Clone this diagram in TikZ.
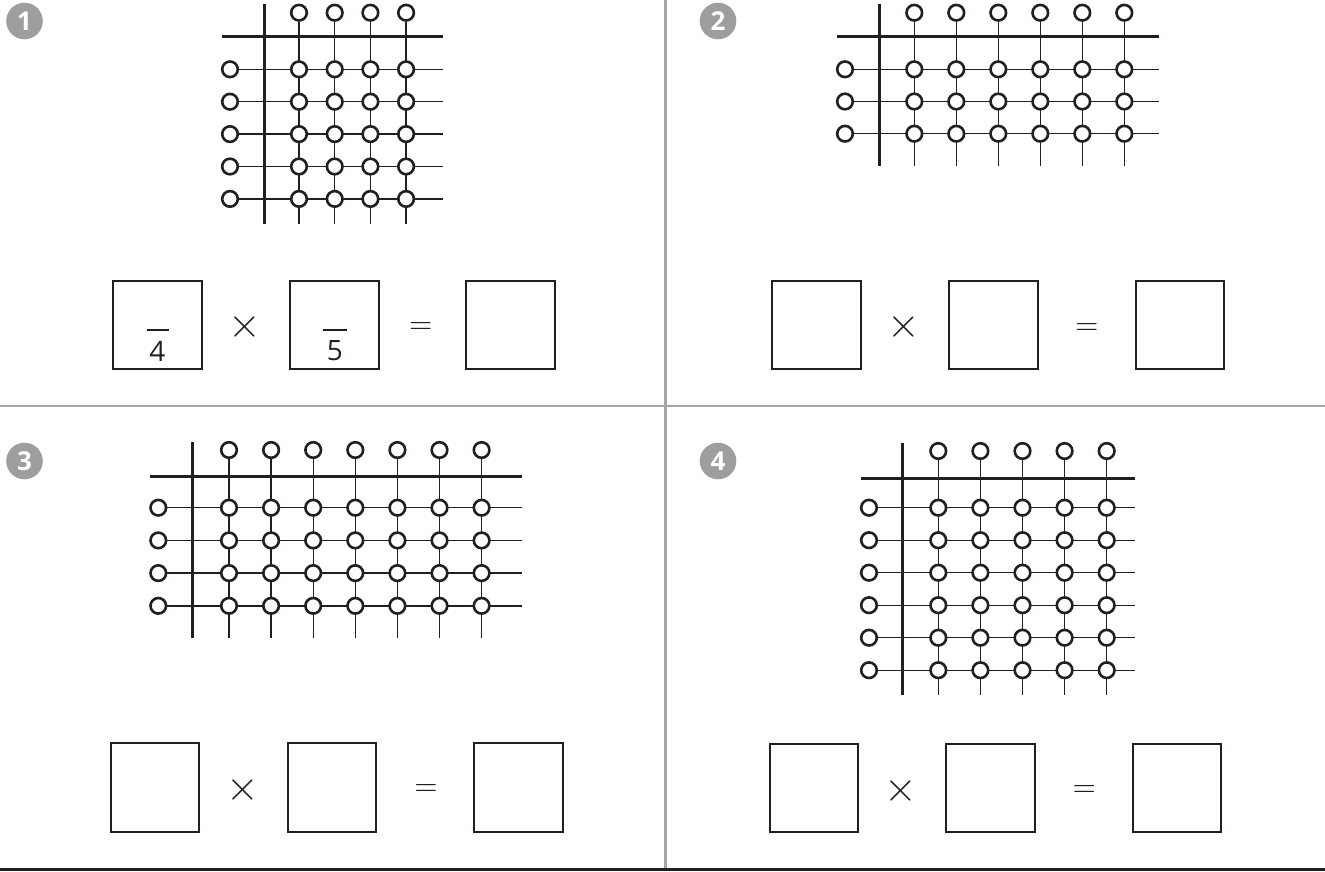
\documentclass[tikz,border=0pt]{standalone}
\usepackage{fontspec}
\setmainfont{Open Sans}
\newfontfamily\opfont{lmroman10-regular.otf}
\usetikzlibrary{backgrounds}
\definecolor{ink}{RGB}{35,31,32}
\definecolor{badgegray}{RGB}{158,158,161}
\definecolor{sepgray}{RGB}{165,165,167}
\tikzset{
  ring/.style={circle, draw=ink, line width=2.6pt, fill=white, minimum size=15.6pt, inner sep=0pt},
  gline/.style={draw=ink, line width=1.4pt},
  axisline/.style={draw=ink, line width=3pt},
  ansbox/.style={draw=ink, line width=2pt, minimum width=88.5pt, minimum height=88.3pt, inner sep=0pt},
  badge/.style={circle, fill=badgegray, minimum size=36.6pt, inner sep=0pt, text=white, font=\fontsize{26}{26}\selectfont\bfseries},
  sepline/.style={draw=sepgray, line width=2.6pt},
  endline/.style={draw=ink, line width=2.4pt},
  timessym/.style={font=\opfont\fontsize{42}{42}\selectfont, inner sep=0pt, text=ink},
  eqsym/.style={font=\opfont\fontsize{30}{30}\selectfont, inner sep=0pt, text=ink},
  digit/.style={font=\fontsize{28}{28}\selectfont, inner sep=0pt, text=ink},
  fracbar/.style={draw=ink, line width=1.5pt},
}
\pgfkeys{/mygrid/.cd,
  id/.store in=\gId, ax/.store in=\gAx, lx/.store in=\gLx,
  cx/.store in=\gCx, dc/.store in=\gDc, nc/.store in=\gNc,
  ty/.store in=\gTy, hy/.store in=\gHy, ry/.store in=\gRy,
  dr/.store in=\gDr, nr/.store in=\gNr, by/.store in=\gBy,
  rx/.store in=\gRx}
\newcommand\drawgridbody{%
  \foreach \i in {1,...,\gNc} {
    \pgfmathsetmacro\xx{\gCx+(\i-1)*\gDc}
    \node[ring] (\gId-t\i) at (\xx,\gTy) {};
    \coordinate (\gId-b\i) at (\xx,\gBy);
  }
  \foreach \j in {1,...,\gNr} {
    \pgfmathsetmacro\yy{\gRy+(\j-1)*\gDr}
    \node[ring] (\gId-l\j) at (\gLx,\yy) {};
    \coordinate (\gId-r\j) at (\gRx,\yy);
    \foreach \i in {1,...,\gNc} {
      \pgfmathsetmacro\xx{\gCx+(\i-1)*\gDc}
      \node[ring] (\gId-c\i-\j) at (\xx,\yy) {};
    }
  }
  \begin{pgfonlayer}{background}
    \foreach \i in {1,...,\gNc} \draw[gline] (\gId-t\i) -- (\gId-b\i);
    \foreach \j in {1,...,\gNr} \draw[gline] (\gId-l\j) -- (\gId-r\j);
  \end{pgfonlayer}
  \coordinate (\gId-vt) at (\gAx,\gTy-8.5);
  \coordinate (\gId-vb) at (\gAx,\gBy);
  \coordinate (\gId-hl) at (\gLx-8,\gHy);
  \coordinate (\gId-hr) at (\gRx,\gHy);
  \draw[axisline] (\gId-vt) -- (\gId-vb);
  \draw[axisline] (\gId-hl) -- (\gId-hr);
}
\newcommand\drawgrid[1]{\pgfkeys{/mygrid/.cd,#1}\drawgridbody}
\begin{document}
\begin{tikzpicture}[x=1pt,y=-1pt]
\useasboundingbox (0,0) rectangle (1325,871);

% separators
\coordinate (vs-t) at (665.5,0);
\coordinate (vs-b) at (665.5,868);
\coordinate (hs-l) at (0,406);
\coordinate (hs-r) at (1325,406);
\coordinate (bl-l) at (0,869.5);
\coordinate (bl-r) at (1325,869.5);
\draw[sepline] (vs-t) -- (vs-b);
\draw[sepline] (hs-l) -- (hs-r);
\draw[endline] (bl-l) -- (bl-r);

% badges
\node[badge] (b1) at (24.5,21) {1};
\node[badge] (b2) at (718,21) {2};
\node[badge] (b3) at (24.5,461) {3};
\node[badge] (b4) at (718,461) {4};

% grids
\drawgrid{id=p1, ax=264, lx=230, cx=299, dc=35.7, nc=4, ty=12.7, hy=36, ry=69.3, dr=32.4, nr=5, by=224.3, rx=443}
\drawgrid{id=p2, ax=879, lx=845, cx=914.3, dc=42, nc=6, ty=12.7, hy=36, ry=69.3, dr=32.2, nr=3, by=165.7, rx=1159.3}
\drawgrid{id=p3, ax=192.7, lx=158.3, cx=229, dc=42.1, nc=7, ty=450, hy=476, ry=507.7, dr=32.7, nr=4, by=638.3, rx=521.7}
\drawgrid{id=p4, ax=902.3, lx=869, cx=938.3, dc=42.1, nc=5, ty=451, hy=478.3, ry=507.7, dr=32.5, nr=6, by=695.3, rx=1135}

% panel 1 equation
\node[ansbox] (e1a) at (157.7,324.9) {};
\node[timessym] (e1x) at (245,326.7) {×};
\node[ansbox] (e1b) at (334.3,324.9) {};
\node[eqsym] (e1e) at (420.7,328) {=};
\node[ansbox] (e1c) at (510.5,324.9) {};
\coordinate (f1l) at (146.7,330);
\coordinate (f1r) at (169.3,330);
\draw[fracbar] (f1l) -- (f1r);
\node[digit] (d1) at (157.5,351) {4};
\coordinate (f2l) at (322.7,330);
\coordinate (f2r) at (346.7,330);
\draw[fracbar] (f2l) -- (f2r);
\node[digit] (d2) at (334.8,351) {5};

% panel 2 equation
\node[ansbox] (e2a) at (816.7,324.9) {};
\node[timessym] (e2x) at (904,326.7) {×};
\node[ansbox] (e2b) at (993.3,324.9) {};
\node[eqsym] (e2e) at (1086.7,328.5) {=};
\node[ansbox] (e2c) at (1180,324.9) {};

% panel 3 equation
\node[ansbox] (e3a) at (155,787.5) {};
\node[timessym] (e3x) at (242.7,790) {×};
\node[ansbox] (e3b) at (331.8,787.5) {};
\node[eqsym] (e3e) at (426,790) {=};
\node[ansbox] (e3c) at (518.3,787.5) {};

% panel 4 equation
\node[ansbox] (e4a) at (813.8,788.2) {};
\node[timessym] (e4x) at (900.7,790.7) {×};
\node[ansbox] (e4b) at (990.3,788.2) {};
\node[eqsym] (e4e) at (1084.3,790.7) {=};
\node[ansbox] (e4c) at (1176.8,788.2) {};
\end{tikzpicture}
\end{document}
